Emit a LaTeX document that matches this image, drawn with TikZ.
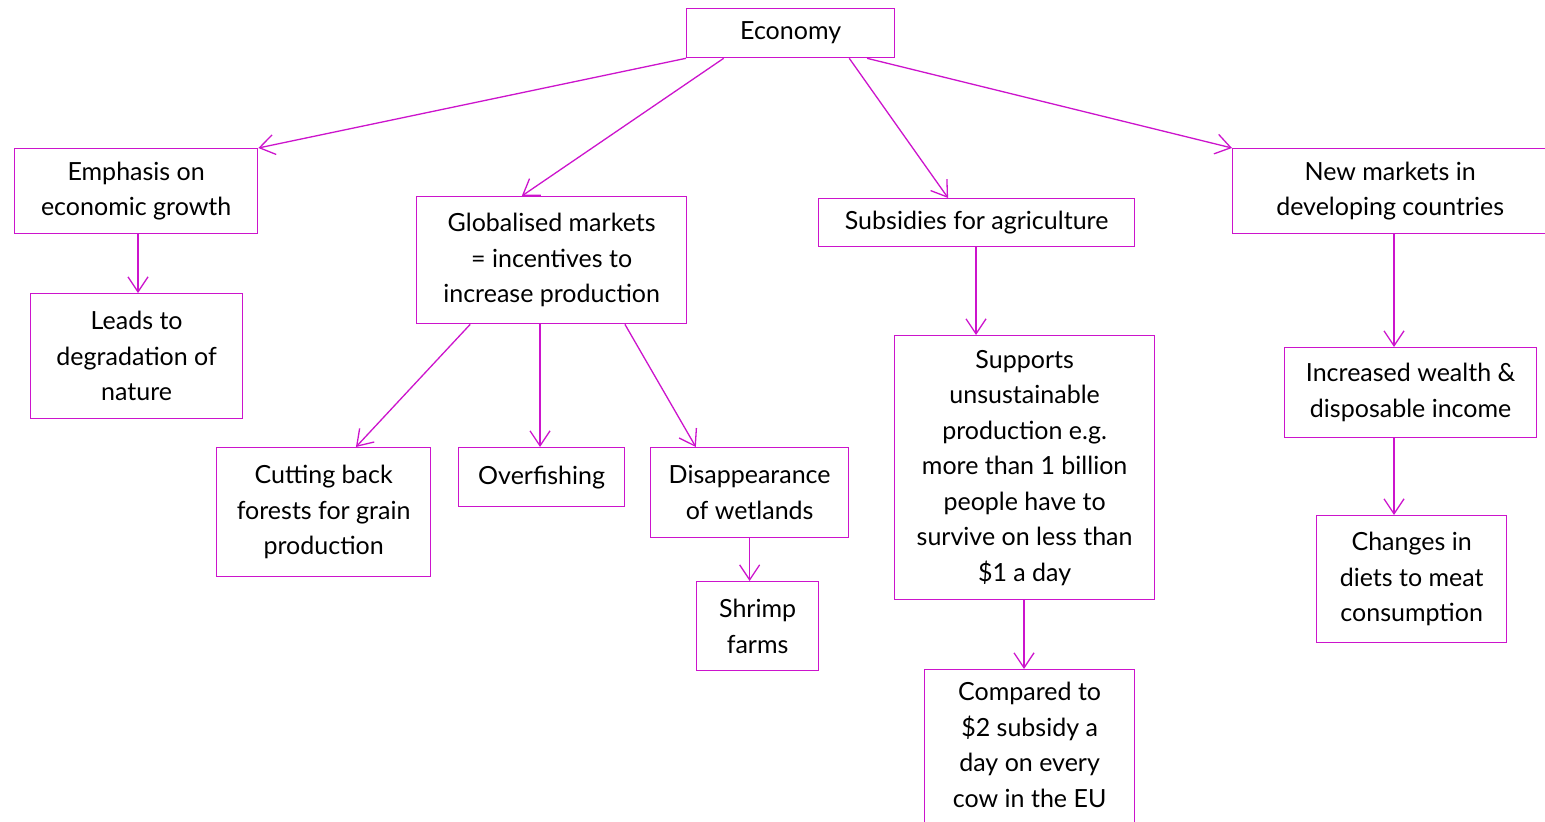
\documentclass[tikz,border=0pt]{standalone}
\usepackage{fontspec}
\setmainfont{Lato}
\usetikzlibrary{arrows.meta,calc}
\definecolor{mag}{RGB}{204,20,204}
\begin{document}
\begin{tikzpicture}[x=1pt,y=-1pt,
  box/.style={draw=mag,line width=1.3pt,inner sep=0pt,align=center,anchor=north west,
    font=\fontsize{25}{35.5}\selectfont},
  arr/.style={draw=mag,line width=1.3pt,-{Straight Barb[length=15pt,width=20pt]}}]
\useasboundingbox (0,0) rectangle (1545,822);
\newcommand{\bx}[6]{\node[box,minimum width=#4-#2,minimum height=#5-#3] (#1) at (#2,#3) {#6};}
\bx{eco}{686}{8}{894}{57}{Economy}
\bx{emph}{14}{148}{257}{233}{Emphasis on\\economic growth}
\bx{lead}{30}{293}{242}{418}{Leads to\\degradation of\\nature}
\bx{glob}{416}{196}{686}{323}{Globalised markets\\= incentives to\\increase production}
\bx{subs}{818}{198}{1134}{246}{Subsidies for agriculture}
\bx{newm}{1232}{148}{1547}{233}{New markets in\\developing countries}
\bx{incw}{1284}{347}{1536}{437}{Increased wealth \&\\disposable income}
\bx{chng}{1316}{515}{1506}{642}{Changes in\\diets to meat\\consumption}
\bx{cut}{216}{447}{430}{576}{Cutting back\\forests for grain\\production}
\bx{over}{458}{447}{624}{506}{Overfishing}
\bx{dis}{650}{447}{848}{537}{Disappearance\\of wetlands}
\bx{shr}{696}{581}{818}{670}{Shrimp\\farms}
\bx{supp}{894}{335}{1154}{599}{Supports\\unsustainable\\production e.g.\\more than 1 billion\\people have to\\survive on less than\\\$1 a day}
\node[box,minimum width=210,minimum height=170,text height=0pt,text depth=0pt] (comp) at (924,669) {};
\node[font=\fontsize{25}{35.5}\selectfont,align=center,anchor=north,inner sep=0pt] (compt) at ($(comp.north)+(0,13)$) {Compared to\\\$2 subsidy a\\day on every\\cow in the EU};
\draw[arr] (eco.south west) -- (emph.north east);
\draw[arr] ($(eco.south west)!0.18!(eco.south east)$) -- ($(glob.north west)!0.39!(glob.north east)$);
\draw[arr] ($(eco.south west)!0.78!(eco.south east)$) -- ($(subs.north west)!0.41!(subs.north east)$);
\draw[arr] ($(eco.south west)!0.865!(eco.south east)$) -- (newm.north west);
\draw[arr] ($(emph.south west)+(124,0)$) coordinate (a1) -- (a1 |- lead.north);
\draw[arr] ($(glob.south west)!0.2!(glob.south east)$) -- ($(cut.north west)!0.65!(cut.north east)$);
\draw[arr] ($(glob.south west)+(124,0)$) coordinate (a2) -- (a2 |- over.north);
\draw[arr] ($(glob.south west)!0.77!(glob.south east)$) -- ($(dis.north west)!0.23!(dis.north east)$);
\draw[arr] ($(subs.south west)+(158,0)$) coordinate (a3) -- (a3 |- supp.north);
\draw[arr] ($(supp.south west)+(130,0)$) coordinate (a4) -- (a4 |- comp.north);
\draw[arr] (dis.south) coordinate (a5) -- (a5 |- shr.north);
\draw[arr] ($(newm.south west)+(162,0)$) coordinate (a6) -- (a6 |- incw.north);
\draw[arr] ($(incw.south west)+(110,0)$) coordinate (a7) -- (a7 |- chng.north);
\end{tikzpicture}
\end{document}
